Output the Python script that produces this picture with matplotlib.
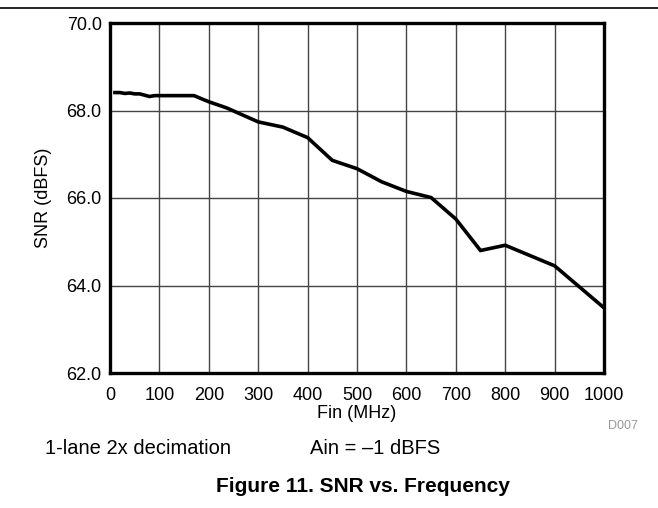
import matplotlib
matplotlib.use("Agg")
import matplotlib.pyplot as plt
from matplotlib.lines import Line2D

plt.rcParams['font.family'] = ['Liberation Sans', 'DejaVu Sans']

freq_mhz = [10, 20, 30, 40, 50, 60, 70, 80, 90, 100, 170, 200, 236, 300, 350, 400,
            450, 500, 550, 600, 650, 700, 750, 800, 900, 1000]
snr_dbfs = [68.41, 68.41, 68.39, 68.40, 68.38, 68.38, 68.35, 68.32, 68.34, 68.34, 68.34,
            68.20, 68.06, 67.74, 67.62, 67.38, 66.86, 66.67, 66.37, 66.15, 66.01,
            65.52, 64.80, 64.92, 64.45, 63.49]
x_ticks = [0, 100, 200, 300, 400, 500, 600, 700, 800, 900, 1000]
y_ticks = [62.0, 64.0, 66.0, 68.0, 70.0]

W, H = 658, 508
fig = plt.figure(figsize=(W / 100, H / 100), dpi=100)
ax = fig.add_axes([110 / W, 1 - 373 / H, (604 - 110) / W, (373 - 23) / H])

ax.plot(freq_mhz, snr_dbfs, color='black', lw=2.6, solid_joinstyle='miter', zorder=3)
ax.set_xlim(0, 1000)
ax.set_ylim(62, 70)
ax.set_xticks(x_ticks)
ax.set_yticks(y_ticks)
ax.set_yticklabels([f"{v:.1f}" for v in y_ticks])
ax.tick_params(length=0, labelsize=13)
ax.tick_params(axis='x', pad=10)
ax.tick_params(axis='y', pad=6)
ax.grid(True, color='#444444', lw=1.0)
for s in ax.spines.values():
    s.set_linewidth(2.4)

fig.text(357 / W, 1 - 414 / H, "Fin (MHz)", fontsize=13, ha='center', va='center')
fig.text(44 / W, 1 - 198 / H, "SNR (dBFS)", fontsize=13, ha='center', va='center',
         rotation=90)

fig.add_artist(Line2D([0, 1], [1 - 7.5 / H, 1 - 7.5 / H], color='black', lw=1.2))
fig.text(608 / W, 1 - 426 / H, "D007", fontsize=9, color='#999999', ha='left', va='center')
fig.text(45 / W, 1 - 449 / H, "1-lane 2x decimation", fontsize=14.5, ha='left', va='center')
fig.text(310 / W, 1 - 449 / H, "Ain = \u20131 dBFS", fontsize=14.5, ha='left', va='center')
fig.text(363 / W, 1 - 486 / H, "Figure 11. SNR vs. Frequency", fontsize=15,
         fontweight='bold', ha='center', va='center')

fig.savefig("out.png", dpi=100)
